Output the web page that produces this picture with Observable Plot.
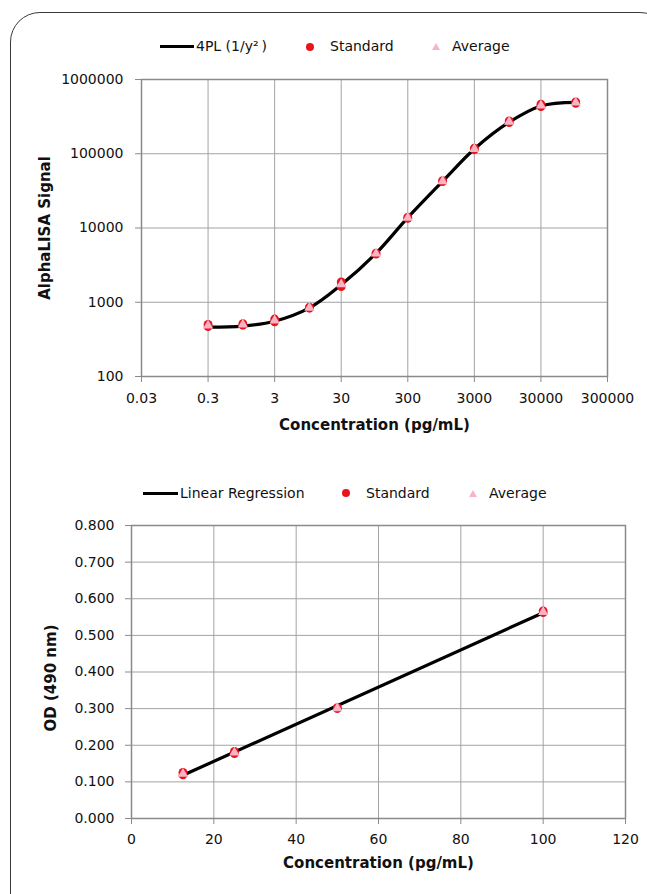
<!DOCTYPE html>
<html>
<head>
<meta charset="utf-8">
<script src="https://cdn.jsdelivr.net/npm/d3@7"></script>
<script src="https://cdn.jsdelivr.net/npm/@observablehq/plot@0.6"></script>
<style>
  html, body { margin: 0; padding: 0; background: #fff; }
  #page { position: relative; width: 647px; height: 894px; overflow: hidden; font-family: "DejaVu Sans", sans-serif; color: #111; }
  #border { position: absolute; left: 10px; top: 12px; width: 660px; height: 920px; border: 1.3px solid #3a3a3a; border-radius: 30px; box-sizing: border-box; }
  .chart { position: absolute; left: 0; }
  .leg { position: absolute; font-size: 14px; line-height: 16px; white-space: nowrap; }
  .legline { position: absolute; height: 3px; background: #000; }
  .legdot { position: absolute; width: 8px; height: 8px; border-radius: 50%; background: #e8141c; }
  .legtri { position: absolute; width: 0; height: 0; border-left: 4px solid transparent; border-right: 4px solid transparent; border-bottom: 7px solid #f7b4c6; }
</style>
</head>
<body>
<div id="page">
  <div id="border"></div>
  <div id="top" class="chart" style="top:0px"></div>
  <div id="bot" class="chart" style="top:460px"></div>

  <!-- top legend -->
  <div class="legline" style="left:160px; top:45px; width:34px"></div>
  <div class="leg" style="left:196px; top:38px">4PL (1/y²&#8201;)</div>
  <div class="legdot" style="left:306px; top:43px"></div>
  <div class="leg" style="left:330px; top:38px">Standard</div>
  <div class="legtri" style="left:432px; top:43px"></div>
  <div class="leg" style="left:452px; top:38px">Average</div>

  <!-- bottom legend -->
  <div class="legline" style="left:143px; top:492px; width:35px"></div>
  <div class="leg" style="left:180px; top:485px">Linear Regression</div>
  <div class="legdot" style="left:342px; top:489px"></div>
  <div class="leg" style="left:366px; top:485px">Standard</div>
  <div class="legtri" style="left:469px; top:490px"></div>
  <div class="leg" style="left:489px; top:485px">Average</div>
</div>
<script>
// ---------- Top chart: AlphaLISA 4PL ----------
const topConc = [0.3, 1, 3, 10, 30, 100, 300, 1000, 3000, 10000, 30000, 100000];
const topStdRep1 = [505, 515, 595, 860, 1880, 4600, 14000, 43500, 119000, 278000, 465000, 500000];
const topStdRep2 = [470, 490, 545, 830, 1620, 4450, 13500, 42000, 114000, 262000, 430000, 478000];
const topAverage = [485, 500, 568, 845, 1740, 4520, 13750, 42700, 116000, 270000, 447000, 488000];
const topFit     = [462, 478, 556, 840, 1720, 4560, 13800, 42500, 116000, 266000, 440000, 492000];
const topXTicks = [0.03, 0.3, 3, 30, 300, 3000, 30000, 300000];
const topXLabels = ["0.03", "0.3", "3", "30", "300", "3000", "30000", "300000"];
const topYTicks = [100, 1000, 10000, 100000, 1000000];
const topYLabels = ["100", "1000", "10000", "100000", "1000000"];

// ---------- Bottom chart: OD linear ----------
const botConc = [12.5, 25, 50, 100];
const botStdRep1 = [0.126, 0.183, 0.303, 0.567];
const botStdRep2 = [0.119, 0.177, 0.300, 0.562];
const botAverage = [0.122, 0.180, 0.301, 0.564];
const botFitConc = [12.5, 100];
const botFitOD = [0.118, 0.562];
const botXTicks = [0, 20, 40, 60, 80, 100, 120];
const botYTicks = [0, 0.1, 0.2, 0.3, 0.4, 0.5, 0.6, 0.7, 0.8];

const RED = "#e8141c", PINK = "#f7b4c6", GRID = "#a3a3a3", AXIS = "#8a8a8a";

const topStd = topConc.flatMap((c, i) => [{c, v: topStdRep1[i]}, {c, v: topStdRep2[i]}]);
const topAvg = topConc.map((c, i) => ({c, v: topAverage[i]}));
const topLine = topConc.map((c, i) => ({c, v: topFit[i]}));

const style = {fontFamily: "DejaVu Sans, sans-serif", fontSize: "14px", color: "#111", background: "transparent", overflow: "visible"};

const topPlot = Plot.plot({
  width: 647, height: 440,
  marginLeft: 141, marginRight: 40, marginTop: 79, marginBottom: 64,
  style,
  x: {type: "log", domain: [0.03, 300000]},
  y: {type: "log", domain: [100, 1000000]},
  marks: [
    Plot.gridX(topXTicks, {stroke: GRID, strokeOpacity: 1}),
    Plot.gridY(topYTicks, {stroke: GRID, strokeOpacity: 1}),
    Plot.frame({stroke: AXIS, strokeWidth: 1.5}),
    Plot.axisX(topXTicks, {tickSize: 6, tickPadding: 11, stroke: AXIS, fill: "#111", text: (d, i) => topXLabels[i], label: null}),
    Plot.axisY(topYTicks, {tickSize: 6, tickPadding: 12, stroke: AXIS, fill: "#111", text: (d, i) => topYLabels[i], label: null}),
    Plot.line(topLine, {x: "c", y: "v", stroke: "#000", strokeWidth: 3.2, curve: "catmull-rom"}),
    Plot.dot(topStd, {x: "c", y: "v", r: 4.4, fill: RED, stroke: "none"}),
    Plot.dot(topAvg, {x: "c", y: "v", symbol: "triangle", r: 3.8, fill: PINK, stroke: "none"}),
    Plot.text(["Concentration (pg/mL)"], {frameAnchor: "bottom", dy: 53, textAnchor: "middle", fontWeight: "bold", fontSize: 15, fill: "#111"}),
    Plot.text(["AlphaLISA Signal"], {frameAnchor: "left", dx: -96, rotate: -90, textAnchor: "middle", fontWeight: "bold", fontSize: 15, fill: "#111"})
  ]
});
document.getElementById("top").appendChild(topPlot);

const botStd = botConc.flatMap((c, i) => [{c, v: botStdRep1[i]}, {c, v: botStdRep2[i]}]);
const botAvg = botConc.map((c, i) => ({c, v: botAverage[i]}));
const botLine = botFitConc.map((c, i) => ({c, v: botFitOD[i]}));

const botPlot = Plot.plot({
  width: 647, height: 434,
  marginLeft: 131, marginRight: 22, marginTop: 65, marginBottom: 76,
  style,
  x: {domain: [0, 120]},
  y: {domain: [0, 0.8]},
  marks: [
    Plot.gridX(botXTicks, {stroke: GRID, strokeOpacity: 1}),
    Plot.gridY(botYTicks, {stroke: GRID, strokeOpacity: 1}),
    Plot.frame({stroke: AXIS, strokeWidth: 1.5}),
    Plot.axisX(botXTicks, {tickSize: 6, tickPadding: 10, stroke: AXIS, fill: "#111", tickFormat: d => String(d), label: null}),
    Plot.axisY(botYTicks, {tickSize: 6, tickPadding: 11, stroke: AXIS, fill: "#111", tickFormat: d3.format(".3f"), label: null}),
    Plot.line(botLine, {x: "c", y: "v", stroke: "#000", strokeWidth: 3.2}),
    Plot.dot(botStd, {x: "c", y: "v", r: 4.4, fill: RED, stroke: "none"}),
    Plot.dot(botAvg, {x: "c", y: "v", symbol: "triangle", r: 3.8, fill: PINK, stroke: "none"}),
    Plot.text(["Concentration (pg/mL)"], {frameAnchor: "bottom", dy: 49, textAnchor: "middle", fontWeight: "bold", fontSize: 15, fill: "#111"}),
    Plot.text(["OD (490 nm)"], {frameAnchor: "left", dx: -80, dy: 6, rotate: -90, textAnchor: "middle", fontWeight: "bold", fontSize: 15, fill: "#111"})
  ]
});
document.getElementById("bot").appendChild(botPlot);
</script>
</body>
</html>
